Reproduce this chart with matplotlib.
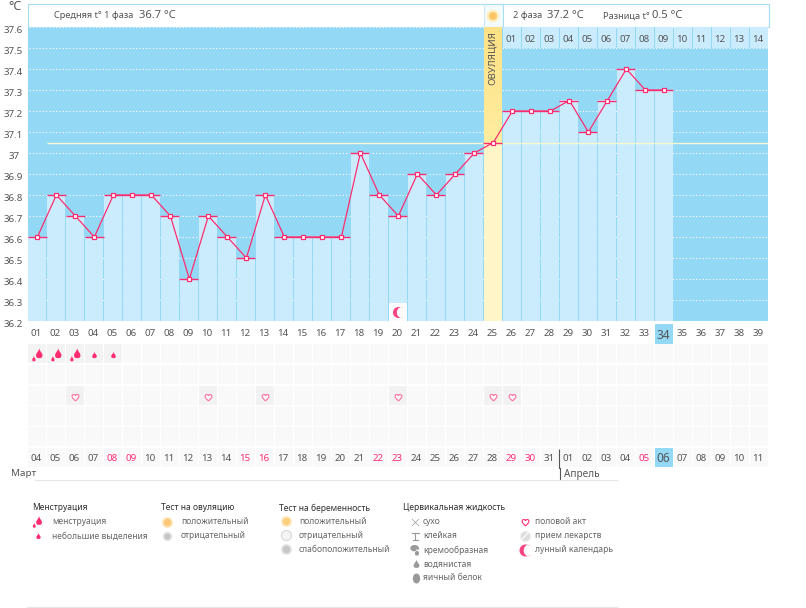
import numpy as np
import matplotlib
matplotlib.use("Agg")
import matplotlib.pyplot as plt
from matplotlib.colors import LinearSegmentedColormap
from matplotlib.patches import Rectangle, Circle
from matplotlib.path import Path
from matplotlib.transforms import Affine2D, ScaledTranslation

plt.rcParams['font.family'] = ['Noto Sans', 'DejaVu Sans']

# chart data
days = list(range(1, 40))
temps = [36.6, 36.8, 36.7, 36.6, 36.8, 36.8, 36.8, 36.7, 36.4, 36.7, 36.6, 36.5, 36.8,
         36.6, 36.6, 36.6, 36.6, 37.0, 36.8, 36.7, 36.9, 36.8, 36.9, 37.0, 37.05,
         37.2, 37.2, 37.2, 37.25, 37.1, 37.25, 37.4, 37.3, 37.3]
cover_temp = 37.05
ovulation_day = 25
today = 34
phase2_labels = ["01", "02", "03", "04", "05", "06", "07", "08", "09", "10", "11", "12", "13", "14"]
dates = ["04", "05", "06", "07", "08", "09", "10", "11", "12", "13", "14", "15", "16", "17", "18", "19",
         "20", "21", "22", "23", "24", "25", "26", "27", "28", "29", "30", "31",
         "01", "02", "03", "04", "05", "06", "07", "08", "09", "10", "11"]
weekend_days = [5, 6, 12, 13, 19, 20, 26, 27, 33]
heavy_days = [1, 2, 3]
light_days = [4, 5]
heart_days = [3, 10, 13, 20, 25, 26]
moon_days = [20]
temp_ticks = [36.2, 36.3, 36.4, 36.5, 36.6, 36.7, 36.8, 36.9, 37.0, 37.1, 37.2, 37.3, 37.4, 37.5, 37.6]

BLUE = "#93d8f5"
PALE = "#cbecfd"
PINK = "#ff2d6f"
TEXT = "#555555"
W, H = 806, 608


def px_axes(fig, left, top, right, bottom):
    return fig.add_axes([left / W, 1 - bottom / H, (right - left) / W, (bottom - top) / H])


def px(pts):
    return pts * 0.72


def drop(cx=0.0, cy=0.0, w=1.0, h=1.6):
    return Path([(cx, cy + h), (cx + w * 0.2, cy + h * 0.4), (cx + w, cy + h * 0.2), (cx + w, cy - h * 0.2),
                 (cx + w, cy - h * 0.7), (cx + w * 0.5, cy - h * 0.7), (cx, cy - h * 0.7),
                 (cx - w * 0.5, cy - h * 0.7), (cx - w, cy - h * 0.7), (cx - w, cy - h * 0.2),
                 (cx - w, cy + h * 0.2), (cx - w * 0.2, cy + h * 0.4), (cx, cy + h)],
                [Path.MOVETO] + [Path.CURVE4] * 12)


def crescent():
    t1 = np.linspace(np.pi * 0.35, np.pi * 1.65, 30)
    t2 = t1[::-1]
    outer = np.c_[np.cos(t1), np.sin(t1)]
    inner = np.c_[outer[0, 0] + 0.75 * (np.cos(t2) + 0.45) - 0.34 + 0.0, 0.93 * np.sin(t2)]
    return Path(np.vstack([outer, inner, outer[:1]]), closed=True)


def heart():
    return Path([(0, -1), (-0.5, -0.5), (-1, -0.1), (-1, 0.4), (-1, 0.9), (-0.3, 1.1), (0, 0.55),
                 (0.3, 1.1), (1, 0.9), (1, 0.4), (1, -0.1), (0.5, -0.5), (0, -1)],
                [Path.MOVETO] + [Path.CURVE4] * 12)


heavy_marker = Path.make_compound_path(drop(0.3, 0.25, 0.55, 1.0), drop(-0.62, -0.62, 0.28, 0.55))
light_marker = drop(0, 0, 0.6, 1.0)
egg_marker = Path.unit_circle().transformed(Affine2D().scale(0.73, 1))
cream_marker = Path.make_compound_path(Path.unit_circle().transformed(Affine2D().scale(0.75, 0.55).translate(-0.15, 0.4)),
                                       drop(0.25, -0.35, 0.35, 0.75))

fig = plt.figure(figsize=(W / 100, H / 100), dpi=100, facecolor="white")

# temperature chart
ax = px_axes(fig, 27.5, 27, 768.5, 321)
ax.set_facecolor(BLUE)
ax.set_xlim(0.5, 39.5)
ax.set_ylim(36.2, 37.6)
for s in ax.spines.values():
    s.set_visible(False)

ax.set_yticks(temp_ticks)
ax.set_yticklabels(["37" if t == 37.0 else f"{t:.1f}" for t in temp_ticks])
ax.set_xticks(days)
ax.set_xticklabels([f"{d:02d}" for d in days])
ax.tick_params(axis="both", length=0, labelsize=7, labelcolor=TEXT)
ax.tick_params(axis="y", pad=10)
ax.tick_params(axis="x", pad=6)
for lab in ax.get_yticklabels():
    lab.set_ha("center")
    lab.set_transform(lab.get_transform() + ScaledTranslation(0, -2.5 / 100, fig.dpi_scale_trans))
for lab in ax.get_xticklabels():
    lab.set_transform(lab.get_transform() + ScaledTranslation(-1 / 100, 0, fig.dpi_scale_trans))
ax.get_xticklabels()[today - 1].set_fontsize(8.5)

ax.hlines(temp_ticks, 0.6, 39.5, color="white", lw=0.8, linestyles=(0, (1, 2)), zorder=1)

bar_w = 18 / 19
values = np.array(temps)
x = np.arange(1, len(temps) + 1)
normal = x != ovulation_day
ax.bar(x[normal], values[normal] - 36.2, bottom=36.2, width=bar_w, color=PALE, zorder=2)
ax.bar(ovulation_day, temps[ovulation_day - 1] - 36.2, bottom=36.2, width=bar_w, color="#fff5c8", zorder=2)
ax.bar(days[25:], 0.1, bottom=37.5, width=bar_w, color=PALE, zorder=2)
ax.bar(moon_days, 0.085, bottom=36.2, width=bar_w, color="#fbfbfb", zorder=3)

yellow = LinearSegmentedColormap.from_list("ovu", ["#ffeda0", "#fde184"])
ax.imshow(np.linspace(0, 1, 50).reshape(-1, 1), cmap=yellow, origin="lower", aspect="auto",
          extent=(ovulation_day - bar_w / 2, ovulation_day + bar_w / 2, cover_temp, 37.6), zorder=2)
ax.set_xlim(0.5, 39.5)
ax.set_ylim(36.2, 37.6)

ax.hlines(cover_temp, 1.55, 39.5, color="#f4f8d0", lw=1.0, zorder=3)
ax.hlines(values, x - 0.5, x + 0.5, color=PINK, lw=1.0, zorder=4)
ax.plot(x + 0.02, values, color=PINK, lw=0.9, marker="s", ms=3.5, mfc="white", mec=PINK, mew=0.9, zorder=5)
ax.scatter(moon_days, [36.243] * len(moon_days), marker=crescent(), s=px(11) ** 2, color="#f8447f", linewidths=0, zorder=5)

for d, lab in zip(days[25:], phase2_labels):
    ax.text(d - 0.05, 37.54, lab, ha="center", va="center", fontsize=7, color=TEXT, zorder=5)
ax.text(ovulation_day - 0.05, 37.45, "ОВУЛЯЦИЯ", rotation=90, ha="center", va="center", fontsize=7, color=TEXT, zorder=5)

# symptom rows under the chart
rows = px_axes(fig, 27.5, 344, 768.5, 468.8)
rows.set_xlim(0.5, 39.5)
rows.set_ylim(6, 0)
rows.axis("off")
for r in range(6):
    rows.bar(days, 0.92, bottom=r, width=bar_w, color="#f9f9fa", zorder=1)
rows.bar(heavy_days + light_days, 0.92, bottom=0, width=bar_w, color="#f3f3f3", zorder=2)
rows.bar(heart_days, 0.92, bottom=2, width=bar_w, color="#f2f2f2", zorder=2)
rows.scatter(heavy_days, [0.54] * len(heavy_days), marker=heavy_marker, s=px(14.5) ** 2, color=PINK, linewidths=0, zorder=3)
rows.scatter(light_days, [0.54] * len(light_days), marker=light_marker, s=px(7.5) ** 2, color=PINK, linewidths=0, zorder=3)
rows.scatter(heart_days, [2.53] * len(heart_days), marker=heart(), s=px(7.5) ** 2, facecolor="white", edgecolor="#ff6f9b", linewidths=0.8, zorder=3)
rows.bar(today, 0.92, bottom=5, width=bar_w, color=BLUE, zorder=2)
rows.vlines(28.5, 5.05, 6, color=TEXT, lw=0.8, zorder=3)
for d, lab in zip(days, dates):
    rows.text(d - 0.05, 5.5, lab, ha="center", va="center", fontsize=8.5 if d == today else 7,
              color=PINK if d in weekend_days else TEXT, zorder=3)

# header, month captions and legend live in pixel coordinates, behind the chart
ov = px_axes(fig, 0, 0, W, H)
ov.set_zorder(-1)
ov.set_xlim(0, W)
ov.set_ylim(H, 0)
ov.axis("off")

ov.add_patch(Rectangle((484.5, 4), 18, 23, fc="#f3fbff", ec="none", zorder=1))
ov.add_patch(Rectangle((27.5, 3.5), 741, 23.5, fc="none", ec="#a6dcf4", lw=0.8, zorder=2))
ov.plot([484, 484], [3.5, 27], color="#cdeafa", lw=0.8)
ov.plot([502.5, 502.5], [3.5, 27], color="#a6dcf4", lw=0.8)
ov.add_patch(Circle((493, 16), 6.5, fc="#ffeec0", ec="none", zorder=3))
ov.add_patch(Circle((493, 16), 4, fc="#fbc465", ec="none", zorder=3))
ov.add_patch(Rectangle((655, 323.5), 18, 20, fc=BLUE, ec="none"))

ov.text(8, 7, "°C", fontsize=9, color=TEXT, va="center")
ov.text(54, 16, "Средняя t° 1 фаза", fontsize=6.6, color=TEXT, va="center")
ov.text(139, 15.5, "36.7 °C", fontsize=8.1, color=TEXT, va="center")
ov.text(513, 16, "2 фаза", fontsize=6.6, color=TEXT, va="center")
ov.text(547, 15.5, "37.2 °C", fontsize=8.1, color=TEXT, va="center")
ov.text(603, 16, "Разница t°", fontsize=6.6, color=TEXT, va="center")
ov.text(652.5, 15.5, "0.5 °C", fontsize=8.1, color=TEXT, va="center")

ov.plot([35, 617], [479.5, 479.5], color="#e6e6e6", lw=0.8)
ov.plot([559.5, 559.5], [468, 479], color=TEXT, lw=0.8)
ov.text(11, 474, "Март", fontsize=7, color=TEXT, va="center")
ov.text(564, 474, "Апрель", fontsize=7.2, color=TEXT, va="center")
ov.plot([27, 617], [606.5, 606.5], color="#e6e6e6", lw=0.8)

titles = [(32, "Менструация"), (161, "Тест на овуляцию"), (279, "Тест на беременность"), (403, "Цервикальная жидкость")]
for tx, t in titles:
    ov.text(tx, 508, t, fontsize=6.1, color="#2f2f2f", va="center", fontweight="medium")

legend_items = [(52, 522, "менструация"), (52, 536, "небольшие выделения"),
                (181, 522, "положительный"), (181, 536, "отрицательный"),
                (299, 522, "положительный"), (299, 536, "отрицательный"), (299, 550, "слабоположительный"),
                (423, 522, "сухо"), (423, 536, "клейкая"), (423, 550, "кремообразная"), (423, 564, "водянистая"), (423, 578, "яичный белок"),
                (535, 522, "половой акт"), (535, 536, "прием лекарств"), (535, 550, "лунный календарь")]
for tx, ty, t in legend_items:
    ov.text(tx, ty, t, fontsize=6.1, color="#666666", va="center")

GRAY = "#999999"
ov.scatter([37], [522], marker=heavy_marker, s=px(13) ** 2, color=PINK, linewidths=0)
ov.scatter([37.5], [536], marker=light_marker, s=px(7) ** 2, color=PINK, linewidths=0)
ov.scatter([167], [522], s=px(9) ** 2, color="#fbc878", edgecolors="#fde3b4", linewidths=1.2)
ov.scatter([167], [536], s=px(8) ** 2, color="#c4c4c4", edgecolors="#e6e6e6", linewidths=1.2)
ov.scatter([286], [521], s=px(9) ** 2, color="#fbd07e", edgecolors="#fde6b8", linewidths=1.2)
ov.scatter([286], [535], s=px(10) ** 2, color="#f4f4f4", edgecolors="#d8d8d8", linewidths=0.8)
ov.scatter([286], [549], s=px(9) ** 2, color="#c6c6c6", edgecolors="#e0e0e0", linewidths=1.2)
ov.scatter([415], [522], marker="x", s=px(7) ** 2, color=GRAY, linewidths=0.5)
ov.plot([411.5, 418.5], [532.5, 532.5], color=GRAY, lw=0.8)
ov.plot([415, 415], [532.5, 540], color=GRAY, lw=0.8)
ov.plot([412.5, 417.5], [540, 540], color=GRAY, lw=0.8)
ov.scatter([415], [550], marker=cream_marker, s=px(11) ** 2, color=GRAY, linewidths=0)
ov.scatter([415.5], [564], marker=light_marker, s=px(9.5) ** 2, color=GRAY, linewidths=0)
ov.scatter([415.5], [578], marker=egg_marker, s=px(10) ** 2, color=GRAY, linewidths=0)
ov.scatter([524.5], [522], marker=heart(), s=px(7.5) ** 2, facecolor="white", edgecolor=PINK, linewidths=0.8)
ov.scatter([525], [536], s=px(10) ** 2, color="#dddddd", edgecolors="#eeeeee", linewidths=0.8)
ov.plot([522, 528], [539, 533], color="white", lw=0.8)
ov.scatter([524.5], [550], marker=crescent(), s=px(12) ** 2, color="#f8447f", linewidths=0)

fig.savefig("out.png", dpi=100)
